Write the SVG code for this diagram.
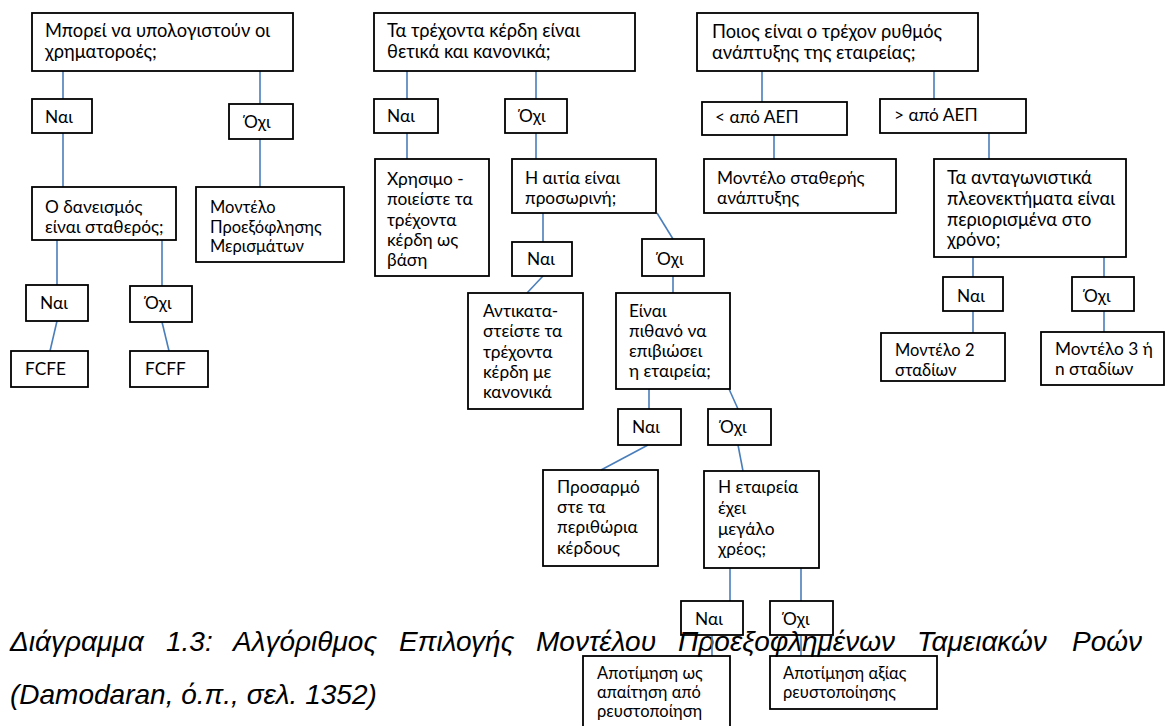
<svg xmlns="http://www.w3.org/2000/svg" width="1165" height="726" viewBox="0 0 1165 726">
  <style>
    .box { fill: none; stroke: #000000; stroke-width: 1.8; }
    .t, .tq, .ts { font-family: Lato, "Noto Sans", "DejaVu Sans", sans-serif; fill: #000000; }
    .t { font-size: 17.3px; }
    .tq { font-size: 18.3px; }
    .ts { font-size: 16.5px; }
    .c { stroke: #4a7ebb; stroke-width: 1.6; fill: none; }
    .cap { font-family: "Liberation Sans", Arial, sans-serif; font-style: italic; font-size: 28px; fill: #000000; }
  </style>
  <rect width="1165" height="726" fill="#ffffff"/>

  <!-- figure caption (justified first line, words placed one by one) -->
  <g id="caption" class="cap">
    <text x="10" y="651">Διάγραμμα</text>
    <text x="166" y="651">1.3:</text>
    <text x="233" y="651">Αλγόριθμος</text>
    <text x="399" y="651">Επιλογής</text>
    <text x="536" y="651">Μοντέλου</text>
    <text x="678" y="651">Προεξοφλημένων</text>
    <text x="917" y="651">Ταμειακών</text>
    <text x="1072" y="651">Ροών</text>
    <text x="10" y="704">(Damodaran, ό.π., σελ. 1352)</text>
  </g>

  <!-- connectors -->
  <g id="connectors" class="c">
    <!-- left tree -->
    <line x1="63" y1="71" x2="63" y2="99"/>
    <line x1="260" y1="71" x2="260" y2="104"/>
    <line x1="63" y1="133" x2="63" y2="187"/>
    <line x1="260" y1="139" x2="260" y2="187"/>
    <line x1="57" y1="240" x2="57" y2="285"/>
    <line x1="162" y1="240" x2="162" y2="286"/>
    <line x1="57" y1="321" x2="50" y2="351"/>
    <line x1="162" y1="322" x2="169" y2="351"/>
    <!-- middle tree -->
    <line x1="407" y1="71" x2="407" y2="99"/>
    <line x1="536" y1="71" x2="536" y2="99"/>
    <line x1="407" y1="133" x2="407" y2="159"/>
    <line x1="536" y1="133" x2="536" y2="159"/>
    <line x1="543" y1="213" x2="543" y2="242"/>
    <line x1="657" y1="213" x2="673" y2="239"/>
    <line x1="543" y1="276" x2="527" y2="293"/>
    <line x1="673" y1="276" x2="673" y2="293"/>
    <line x1="649" y1="389" x2="649" y2="409"/>
    <line x1="729" y1="389" x2="738" y2="409"/>
    <line x1="648" y1="445" x2="601" y2="470"/>
    <line x1="738" y1="445" x2="743" y2="471"/>
    <line x1="730" y1="568" x2="730" y2="601"/>
    <line x1="801" y1="568" x2="801" y2="601"/>
    <line x1="712" y1="635" x2="712" y2="656"/>
    <line x1="801" y1="635" x2="801" y2="656"/>
    <!-- right tree -->
    <line x1="762" y1="71" x2="762" y2="102"/>
    <line x1="934" y1="71" x2="934" y2="99"/>
    <line x1="774" y1="135" x2="774" y2="159"/>
    <line x1="989" y1="133" x2="989" y2="159"/>
    <line x1="973" y1="257" x2="973" y2="277"/>
    <line x1="1104" y1="257" x2="1104" y2="277"/>
    <line x1="973" y1="311" x2="973" y2="333"/>
    <line x1="1104" y1="311" x2="1104" y2="332"/>
  </g>

  <!-- left tree nodes -->
  <g id="q-cashflows">
    <rect class="box" x="32" y="13" width="261" height="58"/>
    <text class="tq" x="45" y="37">Μπορεί να υπολογιστούν οι</text>
    <text class="tq" x="45" y="58">χρηματοροές;</text>
  </g>
  <g id="cf-yes">
    <rect class="box" x="32" y="99" width="60" height="34"/>
    <text class="t" x="45" y="123">Ναι</text>
  </g>
  <g id="cf-no">
    <rect class="box" x="229" y="104" width="64" height="35"/>
    <text class="t" x="244" y="128">Όχι</text>
  </g>
  <g id="q-leverage">
    <rect class="box" x="32" y="187" width="144" height="53"/>
    <text class="t" x="45" y="213">Ο δανεισμός</text>
    <text class="t" x="45" y="233">είναι σταθερός;</text>
  </g>
  <g id="ddm">
    <rect class="box" x="196" y="187" width="148" height="75"/>
    <text class="ts" x="210" y="213">Μοντέλο</text>
    <text class="ts" x="210" y="233">Προεξόφλησης</text>
    <text class="ts" x="210" y="252">Μερισμάτων</text>
  </g>
  <g id="lev-yes">
    <rect class="box" x="26" y="285" width="62" height="36"/>
    <text class="t" x="40" y="309">Ναι</text>
  </g>
  <g id="lev-no">
    <rect class="box" x="130" y="286" width="62" height="36"/>
    <text class="t" x="145" y="309">Όχι</text>
  </g>
  <g id="fcfe">
    <rect class="box" x="11" y="351" width="77" height="36"/>
    <text class="t" x="25" y="375">FCFE</text>
  </g>
  <g id="fcff">
    <rect class="box" x="130" y="351" width="78" height="36"/>
    <text class="t" x="145" y="375">FCFF</text>
  </g>

  <!-- middle tree nodes -->
  <g id="q-earnings">
    <rect class="box" x="374" y="13" width="261" height="58"/>
    <text class="tq" x="387" y="37">Τα τρέχοντα κέρδη είναι</text>
    <text class="tq" x="387" y="58">θετικά και κανονικά;</text>
  </g>
  <g id="earn-yes">
    <rect class="box" x="374" y="99" width="64" height="34"/>
    <text class="t" x="387" y="122">Ναι</text>
  </g>
  <g id="earn-no">
    <rect class="box" x="505" y="99" width="62" height="34"/>
    <text class="t" x="519" y="122">Όχι</text>
  </g>
  <g id="use-current">
    <rect class="box" x="375" y="159" width="114" height="117"/>
    <text class="t" x="387" y="185">Χρησιμο -</text>
    <text class="t" x="387" y="205">ποιείστε τα</text>
    <text class="t" x="387" y="226">τρέχοντα</text>
    <text class="t" x="387" y="246">κέρδη ως</text>
    <text class="t" x="387" y="266">βάση</text>
  </g>
  <g id="q-temporary">
    <rect class="box" x="512" y="159" width="144" height="54"/>
    <text class="t" x="525" y="184">Η αιτία είναι</text>
    <text class="t" x="525" y="204">προσωρινή;</text>
  </g>
  <g id="temp-yes">
    <rect class="box" x="512" y="242" width="60" height="34"/>
    <text class="t" x="527" y="265">Ναι</text>
  </g>
  <g id="temp-no">
    <rect class="box" x="642" y="239" width="62" height="37"/>
    <text class="t" x="657" y="265">Όχι</text>
  </g>
  <g id="normalize">
    <rect class="box" x="468" y="293" width="115" height="116"/>
    <text class="t" x="483" y="317">Αντικατα-</text>
    <text class="t" x="483" y="337">στείστε τα</text>
    <text class="t" x="483" y="358">τρέχοντα</text>
    <text class="t" x="483" y="378">κέρδη με</text>
    <text class="t" x="483" y="398">κανονικά</text>
  </g>
  <g id="q-survive">
    <rect class="box" x="616" y="293" width="114" height="96"/>
    <text class="t" x="629" y="317">Είναι</text>
    <text class="t" x="629" y="337">πιθανό να</text>
    <text class="t" x="629" y="357">επιβιώσει</text>
    <text class="t" x="629" y="377">η εταιρεία;</text>
  </g>
  <g id="surv-yes">
    <rect class="box" x="618" y="409" width="63" height="36"/>
    <text class="t" x="632" y="433">Ναι</text>
  </g>
  <g id="surv-no">
    <rect class="box" x="708" y="409" width="63" height="36"/>
    <text class="t" x="720" y="433">Όχι</text>
  </g>
  <g id="adjust-margins">
    <rect class="box" x="543" y="470" width="115" height="96"/>
    <text class="t" x="557" y="493">Προσαρμό</text>
    <text class="t" x="557" y="513">στε τα</text>
    <text class="t" x="557" y="533">περιθώρια</text>
    <text class="t" x="557" y="554">κέρδους</text>
  </g>
  <g id="q-debt">
    <rect class="box" x="704" y="471" width="115" height="97"/>
    <text class="t" x="718" y="493">Η εταιρεία</text>
    <text class="t" x="718" y="514">έχει</text>
    <text class="t" x="718" y="535">μεγάλο</text>
    <text class="t" x="718" y="555">χρέος;</text>
  </g>
  <g id="debt-yes">
    <rect class="box" x="681" y="601" width="62" height="34"/>
    <text class="t" x="695" y="625">Ναι</text>
  </g>
  <g id="debt-no">
    <rect class="box" x="770" y="601" width="63" height="34"/>
    <text class="t" x="783" y="625">Όχι</text>
  </g>
  <g id="claim-value">
    <rect class="box" x="583" y="656" width="147" height="84"/>
    <text class="ts" x="597" y="679">Αποτίμηση ως</text>
    <text class="ts" x="597" y="698">απαίτηση από</text>
    <text class="ts" x="597" y="717">ρευστοποίηση</text>
  </g>
  <g id="liquidation-value">
    <rect class="box" x="770" y="656" width="167" height="53"/>
    <text class="ts" x="783" y="679">Αποτίμηση αξίας</text>
    <text class="ts" x="783" y="698">ρευστοποίησης</text>
  </g>

  <!-- right tree nodes -->
  <g id="q-growth">
    <rect class="box" x="697" y="13" width="281" height="58"/>
    <text class="tq" x="712" y="38">Ποιος είναι ο τρέχον ρυθμός</text>
    <text class="tq" x="712" y="59">ανάπτυξης της εταιρείας;</text>
  </g>
  <g id="below-gdp">
    <rect class="box" x="702" y="102" width="145" height="33"/>
    <text class="t" x="715" y="123">&lt; από ΑΕΠ</text>
  </g>
  <g id="above-gdp">
    <rect class="box" x="880" y="99" width="146" height="34"/>
    <text class="t" x="894" y="121">&gt; από ΑΕΠ</text>
  </g>
  <g id="stable-growth">
    <rect class="box" x="704" y="159" width="192" height="54"/>
    <text class="t" x="717" y="184">Μοντέλο σταθερής</text>
    <text class="t" x="717" y="204">ανάπτυξης</text>
  </g>
  <g id="q-advantage">
    <rect class="box" x="934" y="159" width="192" height="98"/>
    <text class="tq" x="947" y="184">Τα ανταγωνιστικά</text>
    <text class="tq" x="947" y="205">πλεονεκτήματα είναι</text>
    <text class="tq" x="947" y="226">περιορισμένα στο</text>
    <text class="tq" x="947" y="246">χρόνο;</text>
  </g>
  <g id="adv-yes">
    <rect class="box" x="943" y="277" width="60" height="34"/>
    <text class="t" x="957" y="302">Ναι</text>
  </g>
  <g id="adv-no">
    <rect class="box" x="1072" y="277" width="62" height="34"/>
    <text class="t" x="1084" y="302">Όχι</text>
  </g>
  <g id="two-stage">
    <rect class="box" x="881" y="333" width="124" height="48"/>
    <text class="ts" x="895" y="356">Μοντέλο 2</text>
    <text class="ts" x="895" y="376">σταδίων</text>
  </g>
  <g id="n-stage">
    <rect class="box" x="1041" y="332" width="123" height="53"/>
    <text class="t" x="1055" y="355">Μοντέλο 3 ή</text>
    <text class="t" x="1055" y="375">n σταδίων</text>
  </g>
</svg>
